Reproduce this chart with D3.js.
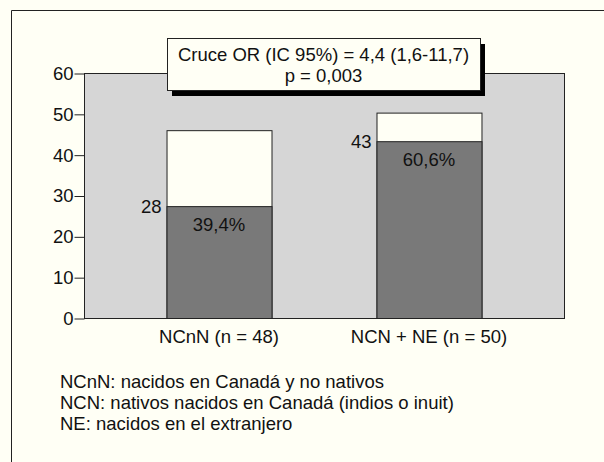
<!DOCTYPE html>
<html>
<head>
<meta charset="utf-8">
<script src="https://cdn.jsdelivr.net/npm/d3@7"></script>
<style>
  body { margin: 0; background: #fffff5; }
  svg { display: block; font-family: "Liberation Sans", Arial, Helvetica, sans-serif; }
</style>
</head>
<body>
<svg id="chart" width="604" height="462"></svg>
<script>
// chart values
const categories = ['NCnN (n = 48)', 'NCN + NE (n = 50)'];
const totals = [46, 50.3];
const darkValues = [27.4, 43.3];
const darkLabels = ['28', '43'];
const percentLabels = ['39,4%', '60,6%'];
const yTicks = [0, 10, 20, 30, 40, 50, 60];
const boxLines = ['Cruce OR (IC 95%) = 4,4 (1,6-11,7)', 'p = 0,003'];
const notes = [
    'NCnN: nacidos en Canadá y no nativos',
    'NCN: nativos nacidos en Canadá (indios o inuit)',
    'NE: nacidos en el extranjero'
];

const FS = 18.5;
const svg = d3.select('#chart');
const plot = {left: 84, right: 564, top: 73, bottom: 318};

// outer frame (only left and top visible)
svg.append('path')
    .attr('d', 'M11.5,462V10.5H604')
    .attr('fill', 'none')
    .attr('stroke', '#222')
    .attr('stroke-width', 1);

const y = d3.scaleLinear().domain([0, 60]).range([plot.bottom, plot.top]);
const x = d3.scaleBand().domain(categories)
    .range([plot.left, plot.right])
    .paddingInner(0.5)
    .paddingOuter(0.393);

// grey plot area
svg.append('rect')
    .attr('x', plot.left + 0.5).attr('y', plot.top + 0.5)
    .attr('width', plot.right - plot.left).attr('height', plot.bottom - plot.top)
    .attr('fill', '#d6d6d6')
    .attr('stroke', '#222');

// y axis
const yAxis = svg.append('g')
    .attr('transform', 'translate(' + (plot.left + 0.5) + ',0.5)')
    .call(d3.axisLeft(y).tickValues(yTicks).tickSize(10).tickPadding(1));
yAxis.select('.domain').remove();
yAxis.selectAll('line').attr('stroke', '#222');
yAxis.selectAll('text')
    .attr('font-size', FS).attr('fill', '#111')
    .attr('font-family', '"Liberation Sans", Arial, sans-serif');

// bars
const bars = svg.append('g').selectAll('g')
    .data(categories)
    .join('g');

bars.append('rect')
    .attr('x', d => x(d) + 0.5)
    .attr('y', (d, i) => y(totals[i]) + 0.5)
    .attr('width', x.bandwidth())
    .attr('height', (d, i) => y(0) - y(totals[i]))
    .attr('fill', '#fffff5')
    .attr('stroke', '#222');

bars.append('rect')
    .attr('x', d => x(d) + 0.5)
    .attr('y', (d, i) => y(darkValues[i]) + 0.5)
    .attr('width', x.bandwidth())
    .attr('height', (d, i) => y(0) - y(darkValues[i]))
    .attr('fill', '#797979')
    .attr('stroke', '#222');

bars.append('text')
    .attr('x', d => x(d) - 5)
    .attr('y', (d, i) => y(darkValues[i]) + 7)
    .attr('text-anchor', 'end')
    .attr('font-size', FS).attr('fill', '#111')
    .text((d, i) => darkLabels[i]);

bars.append('text')
    .attr('x', d => x(d) + x.bandwidth() / 2)
    .attr('y', (d, i) => y(darkValues[i]) + 25)
    .attr('text-anchor', 'middle')
    .attr('font-size', FS).attr('fill', '#111')
    .text((d, i) => percentLabels[i]);

// category labels
svg.append('g').selectAll('text')
    .data(categories)
    .join('text')
    .attr('x', d => x(d) + x.bandwidth() / 2)
    .attr('y', 343)
    .attr('text-anchor', 'middle')
    .attr('font-size', FS).attr('fill', '#111')
    .text(d => d);

// annotation box with shadow
const box = {x: 167, y: 38, w: 313, h: 52};
svg.append('rect')
    .attr('x', box.x + 5).attr('y', box.y + 6)
    .attr('width', box.w).attr('height', box.h)
    .attr('fill', '#000');
svg.append('rect')
    .attr('x', box.x + 0.5).attr('y', box.y + 0.5)
    .attr('width', box.w).attr('height', box.h)
    .attr('fill', '#fffff5')
    .attr('stroke', '#222');
svg.append('g').selectAll('text')
    .data(boxLines)
    .join('text')
    .attr('x', box.x + box.w / 2)
    .attr('y', (d, i) => 61 + i * 21)
    .attr('text-anchor', 'middle')
    .attr('font-size', FS).attr('fill', '#111')
    .text(d => d);

// notes
svg.append('g').selectAll('text')
    .data(notes)
    .join('text')
    .attr('x', 60)
    .attr('y', (d, i) => 388 + i * 21)
    .attr('font-size', FS).attr('fill', '#111')
    .text(d => d);
</script>
</body>
</html>
